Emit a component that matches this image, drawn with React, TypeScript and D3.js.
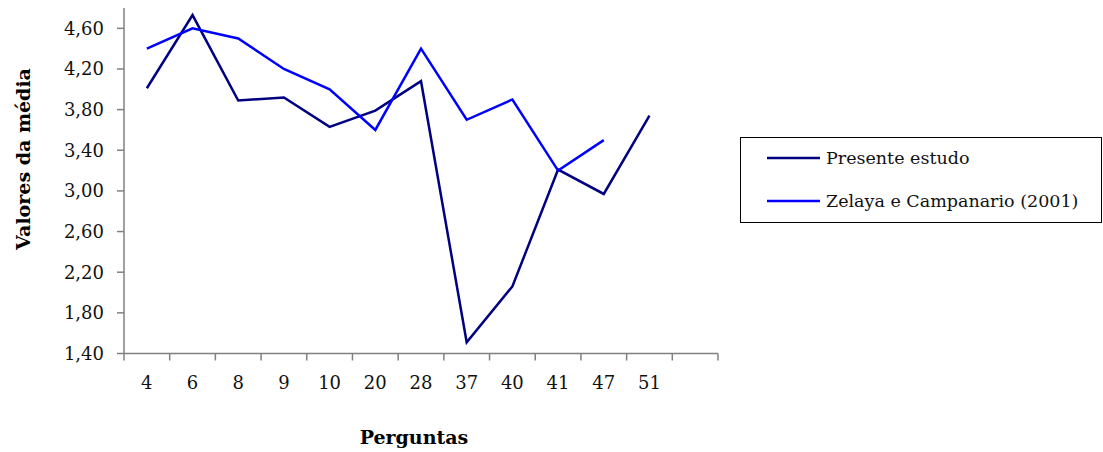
import React from "react";
import * as d3 from "d3";

const categories = ["4", "6", "8", "9", "10", "20", "28", "37", "40", "41", "47", "51", ""];
const presenteEstudo: (number | null)[] = [4.01, 4.73, 3.89, 3.92, 3.63, 3.79, 4.08, 1.51, 2.06, 3.21, 2.97, 3.74, null];
const zelaya: (number | null)[] = [4.4, 4.6, 4.5, 4.2, 4.0, 3.6, 4.4, 3.7, 3.9, 3.2, 3.5, null, null];
const yTicks = [1.4, 1.8, 2.2, 2.6, 3.0, 3.4, 3.8, 4.2, 4.6];

const series = [
  { name: "Presente estudo", values: presenteEstudo, color: "#000080" },
  { name: "Zelaya e Campanario (2001)", values: zelaya, color: "#0000FF" },
];

const W = 1103;
const H = 452;
const left = 124;
const right = 718;
const top = 8;
const bottom = 353.5;
const font = "'DejaVu Serif', serif";

export default function App() {
  const x = d3.scaleBand<string>().domain(categories.map((c, i) => String(i))).range([left, right]);
  const y = d3.scaleLinear().domain([1.4, 4.8]).range([bottom, top]);
  const cx = (i: number) => (x(String(i)) as number) + x.bandwidth() / 2;
  const line = d3
    .line<number | null>()
    .defined((d) => d !== null)
    .x((_, i) => cx(i))
    .y((d) => y(d as number));
  const fmt = (v: number) => v.toFixed(2).replace(".", ",");
  const boundaries = d3.range(categories.length + 1).map((i) => left + i * x.bandwidth());

  return (
    <svg width={W} height={H} style={{ position: "absolute", left: 0, top: 0, background: "#fff" }}>
      <rect x={0} y={0} width={W} height={H} fill="#fff" />
      {/* y axis */}
      <line x1={left} x2={left} y1={top} y2={bottom} stroke="#808080" strokeWidth={1.5} />
      {yTicks.map((t) => (
        <g key={t}>
          <line x1={left - 7} x2={left} y1={y(t)} y2={y(t)} stroke="#808080" strokeWidth={1.5} />
          <text x={104} y={y(t)} dy="0.35em" textAnchor="end" fontFamily={font} fontSize={18} fill="#111">
            {fmt(t)}
          </text>
        </g>
      ))}
      {/* x axis */}
      <line x1={left} x2={right} y1={bottom} y2={bottom} stroke="#808080" strokeWidth={1.5} />
      {boundaries.map((b, i) => (
        <line key={i} x1={b} x2={b} y1={bottom} y2={bottom + 7} stroke="#808080" strokeWidth={1.5} />
      ))}
      {categories.map((c, i) => (
        <text key={i} x={cx(i)} y={382.5} dy="0.35em" textAnchor="middle" fontFamily={font} fontSize={18} fill="#111">
          {c}
        </text>
      ))}
      {/* lines */}
      {series.map((s) => (
        <path key={s.name} d={line(s.values) || ""} fill="none" stroke={s.color} strokeWidth={2.5} strokeLinejoin="miter" />
      ))}
      {/* axis titles */}
      <text
        transform={`translate(23,159) rotate(-90)`}
        textAnchor="middle"
        dy="0.35em"
        fontFamily={font}
        fontWeight="bold"
        fontSize={19}
        fill="#000"
      >
        Valores da média
      </text>
      <text x={414} y={437} dy="0.35em" textAnchor="middle" fontFamily={font} fontWeight="bold" fontSize={19} fill="#000">
        Perguntas
      </text>
      {/* legend */}
      <rect x={740.5} y={137.5} width={361} height={85} fill="#fff" stroke="#000" strokeWidth={1} />
      {series.map((s, i) => (
        <g key={s.name}>
          <line x1={767} x2={820} y1={158 + i * 43} y2={158 + i * 43} stroke={s.color} strokeWidth={2.5} />
          <text x={826} y={158 + i * 43} dy="0.35em" fontFamily={font} fontSize={17.5} fill="#111">
            {s.name}
          </text>
        </g>
      ))}
    </svg>
  );
}
